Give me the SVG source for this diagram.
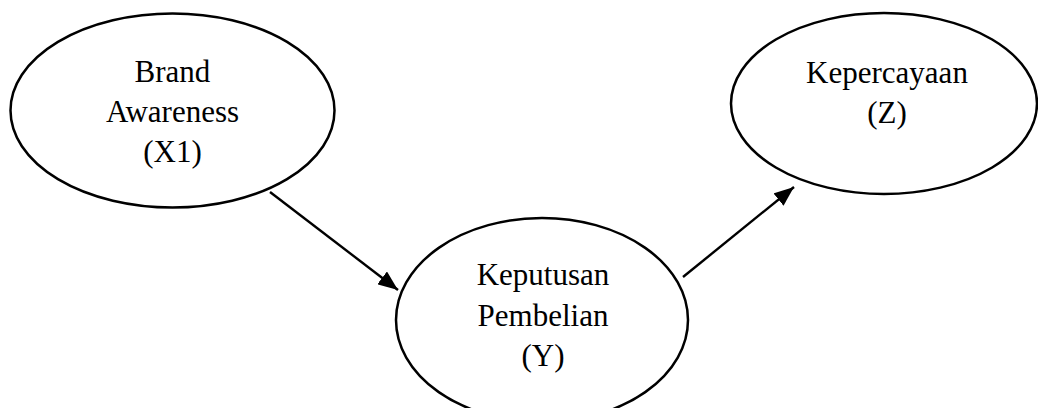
<svg xmlns="http://www.w3.org/2000/svg" width="1038" height="408" viewBox="0 0 1038 408">
<style>
.node ellipse{fill:#fff;stroke:#000;stroke-width:2.5}
.node text{font-family:"Liberation Serif","Times New Roman",serif;font-size:31px;fill:#000;text-anchor:middle}
.conn line{stroke:#000;stroke-width:2.4;marker-end:url(#ah)}
</style>
<defs>
<marker id="ah" markerUnits="userSpaceOnUse" markerWidth="22" markerHeight="16" refX="20" refY="8" orient="auto">
<path d="M0,0 L20,8 L0,16 Z" fill="#000"/>
</marker>
</defs>
<rect width="1038" height="408" fill="#fff"/>
<g id="x1" class="node">
<ellipse cx="172.5" cy="110.5" rx="162" ry="97"/>
<text x="172.5" y="82">Brand</text>
<text x="172.5" y="122">Awareness</text>
<text x="172.5" y="162">(X1)</text>
</g>
<g id="y" class="node">
<ellipse cx="542" cy="320" rx="146" ry="102"/>
<text x="543" y="285">Keputusan</text>
<text x="543" y="326">Pembelian</text>
<text x="543" y="366">(Y)</text>
</g>
<g id="z" class="node">
<ellipse cx="884" cy="103.5" rx="153" ry="90.5"/>
<text x="887" y="83">Kepercayaan</text>
<text x="887" y="123">(Z)</text>
</g>
<g id="connectors" class="conn">
<line x1="270" y1="192" x2="398" y2="290"/>
<line x1="683" y1="277" x2="794" y2="187"/>
</g>
</svg>
